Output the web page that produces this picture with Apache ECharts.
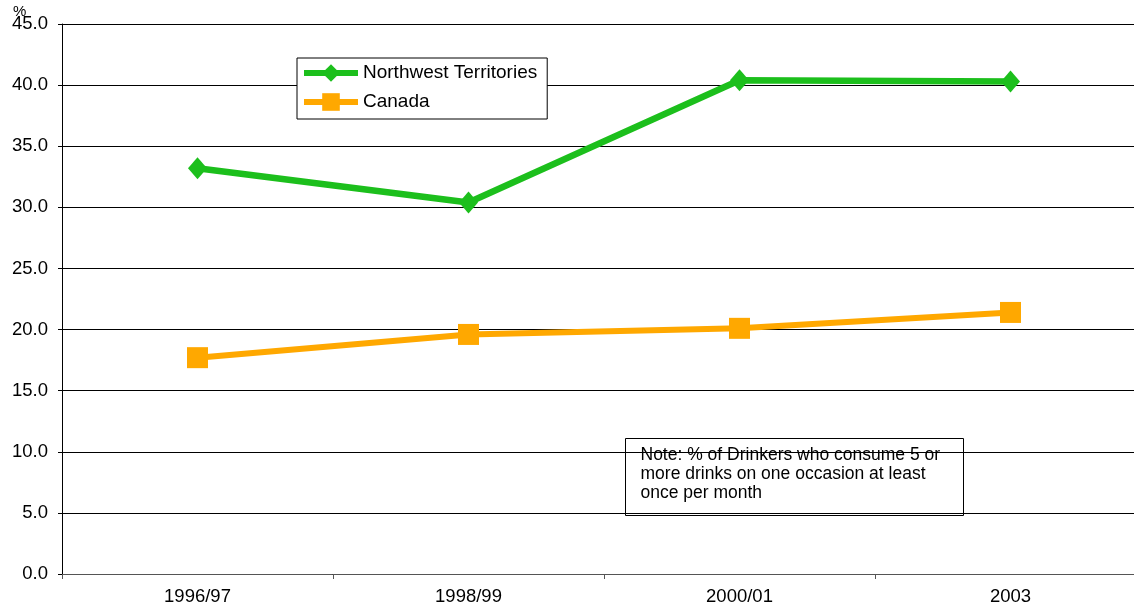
<!DOCTYPE html>
<html>
<head>
<meta charset="utf-8">
<script src="https://cdn.jsdelivr.net/npm/echarts@6/dist/echarts.min.js"></script>
<style>
html,body{margin:0;padding:0;background:#fff;overflow:hidden;width:1134px;height:610px;}
#chart{width:1146px;height:610px;}
</style>
</head>
<body>
<div id="chart"></div>
<script>
const categories = ['1996/97', '1998/99', '2000/01', '2003'];
const nwtValues = [33.2, 30.4, 40.4, 40.3];
const canadaValues = [17.7, 19.6, 20.1, 21.4];
const seriesNames = ['Northwest Territories', 'Canada'];
const noteText = 'Note: % of Drinkers who consume 5 or\nmore drinks on one occasion at least\nonce per month';
const unitLabel = '%';

const FONT = 'Liberation Sans, Arial, Helvetica, sans-serif';
const chart = echarts.init(document.getElementById('chart'));
chart.setOption({
  animation: false,
  backgroundColor: '#fff',
  grid: { left: 62, right: 0, top: 24, bottom: 36, containLabel: false },
  legend: {
    data: seriesNames,
    orient: 'vertical',
    left: 297, top: 58,
    padding: [4, 10, 6, 4],
    itemGap: 7,
    itemWidth: 54,
    itemHeight: 22,
    backgroundColor: '#fff',
    borderColor: '#000',
    borderWidth: 1,
    borderRadius: 0,
    lineStyle: { width: 6 },
    textStyle: { fontFamily: FONT, fontSize: 19, color: '#000', lineHeight: 22 }
  },
  xAxis: {
    type: 'category',
    data: categories,
    boundaryGap: true,
    axisLine: { lineStyle: { color: '#555', width: 1 } },
    axisTick: { show: true, length: 5, inside: false, lineStyle: { color: '#555' } },
    axisLabel: { fontFamily: FONT, fontSize: 18.5, color: '#000', margin: 13 },
    splitLine: { show: false }
  },
  yAxis: {
    type: 'value',
    min: 0, max: 45, interval: 5,
    axisLine: { show: true, lineStyle: { color: '#000', width: 1 } },
    axisTick: { show: true, length: 4, lineStyle: { color: '#000' } },
    axisLabel: { fontFamily: FONT, fontSize: 18.5, color: '#000', margin: 14,
      formatter: v => v.toFixed(1) },
    splitLine: { show: true, lineStyle: { color: '#000', width: 1 } }
  },
  series: [
    {
      name: seriesNames[0],
      type: 'line',
      data: nwtValues,
      symbol: 'diamond',
      symbolSize: [19, 22],
      color: '#1cbf1c',
      lineStyle: { width: 6.5, color: '#1cbf1c' },
      itemStyle: { color: '#1cbf1c' },
      z: 3
    },
    {
      name: seriesNames[1],
      type: 'line',
      data: canadaValues,
      symbol: 'rect',
      symbolSize: 21,
      color: '#ffa800',
      lineStyle: { width: 6, color: '#ffa800' },
      itemStyle: { color: '#ffa800' },
      z: 2
    }
  ],
  graphic: [
    {
      type: 'text', left: 13, top: 4,
      style: { text: unitLabel, fontFamily: FONT, fontSize: 15, fill: '#000' }
    },
    {
      type: 'group', left: 625, top: 438,
      children: [
        { type: 'rect', shape: { x: 0, y: 0, width: 338, height: 77 },
          style: { fill: '#fff', stroke: '#000', lineWidth: 1 } },
        { type: 'text', x: 15, y: 7,
          style: { text: noteText, fontFamily: FONT, fontSize: 17.5, lineHeight: 19, fill: '#000' } }
      ]
    }
  ]
});
</script>
</body>
</html>
